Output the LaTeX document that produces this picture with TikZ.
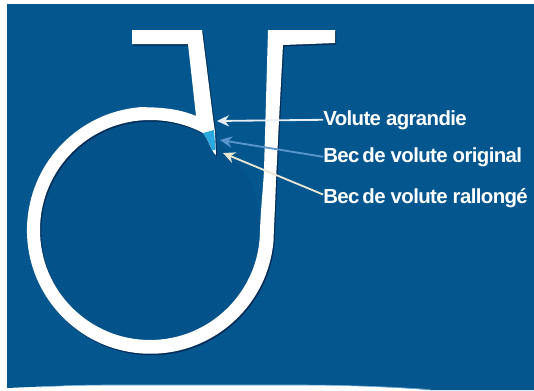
\documentclass[tikz,border=0pt]{standalone}
\usepackage{fontspec}
\setmainfont{Liberation Sans}
\usepackage{tikz}
\usetikzlibrary{arrows.meta,positioning,calc}
\definecolor{voluteblue}{RGB}{4,86,143}
\definecolor{voluteinner}{RGB}{3,82,138}
\definecolor{voluteshade}{RGB}{2,45,88}
\definecolor{voluteedge}{RGB}{125,180,220}
\definecolor{becorig}{RGB}{41,169,224}
\definecolor{arroworig}{RGB}{90,150,205}
\definecolor{arrowrall}{RGB}{235,230,210}
\newfontfamily\lblfont[LetterSpace=-3]{Liberation Sans Bold}
\newcommand{\volutepath}{(132,30) -- (202,30) -- (213,118) -- (215,132) -- (216,155)
  .. controls (212,153) and (208,138) .. (203,133)
  .. controls (190,126) and (172,120) .. (150,120)
  arc (-90:-360:110)
  .. controls (261,205) and (263,190) .. (264,170)
  -- (268,30) -- (335,30) -- (335,43) -- (283,45) -- (279,120) -- (276,180)
  .. controls (275,210) and (274,225) .. (273.5,241)
  arc (5:265:123.5)
  .. controls (165,107) and (182,110) .. (196,116)
  -- (188,44) -- (132,44) -- cycle}
\tikzset{
  lbl/.style={font=\lblfont\fontsize{14.5}{16}\selectfont,text=white,inner sep=0pt,anchor=base west},
  ptr/.style={->,line width=1.3pt}
}
\begin{document}
\begin{tikzpicture}[x=0.025cm,y=-0.025cm,>={Stealth[length=3mm,width=2.8mm]}]
  \useasboundingbox (0,0) rectangle (534,390);
  % background
  \fill[white] (0,0) rectangle (534,390);
  \fill[voluteblue] (7,4) -- (534,4) -- (534,390) -- (430,390) .. controls (380,386) and (330,385) .. (300,385)
    -- (110,385) .. controls (70,385) and (30,387) .. (7,388) -- cycle;
  \draw[voluteedge] (430,389.5) .. controls (380,386) and (330,385) .. (300,385) -- (110,385) .. controls (80,385) and (60,386) .. (40,387);
  \fill[voluteinner] (151,230) circle[radius=110];
  % volute
  \fill[voluteshade,shift={(1.2,1.5)}] \volutepath;
  \fill[white] \volutepath;
  \fill[becorig] (203,133) -- (214,130) -- (215.5,150) -- (212,150) .. controls (209,142) and (206,137) .. cycle;
  % labels
  \node[lbl] (agrandie) at (323,125) {Volute agrandie};
  \node[lbl] (original) at (323,162) {Bec\hspace{-0.1em} de volute original};
  \node[lbl] (rallonge) at (323,203) {Bec\hspace{-0.1em} de volute rallongé};
  \coordinate (tipagrandie) at (217,121);
  \coordinate (tiporiginal) at (220,140);
  \coordinate (tiprallonge) at (223,153);
  \draw[ptr,white!90!voluteblue] (agrandie.west) -- (tipagrandie);
  \draw[ptr,arroworig] (original.west) -- (tiporiginal);
  \draw[ptr,arrowrall] ([yshift=0.08cm]rallonge.west) -- (tiprallonge);
\end{tikzpicture}
\end{document}
